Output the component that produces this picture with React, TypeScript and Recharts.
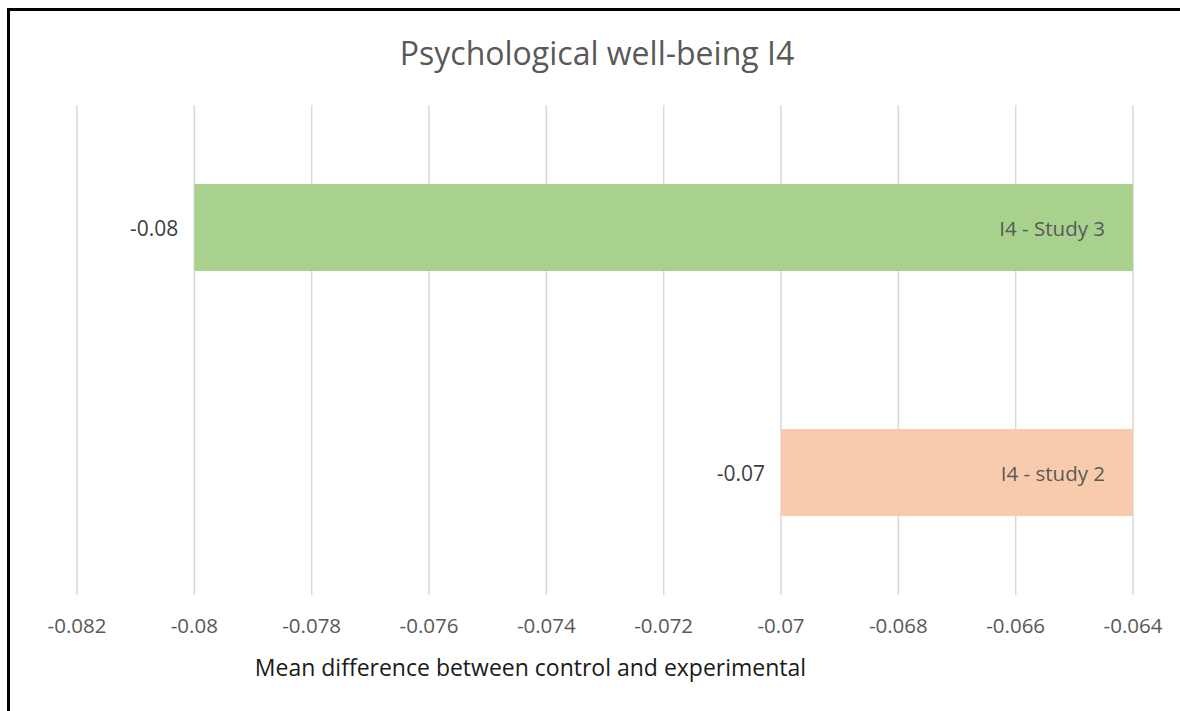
import React from 'react';
import { BarChart, Bar, XAxis, YAxis, CartesianGrid, Cell } from 'recharts';

const categories = ['I4 - Study 3', 'I4 - study 2'];
const values = [-0.08, -0.07];
const valueLabels = ['-0.08', '-0.07'];
const barColors = ['#a9d18e', '#f8cbad'];
const axisBase = -0.064;
const xTicks = [-0.082, -0.08, -0.078, -0.076, -0.074, -0.072, -0.07, -0.068, -0.066, -0.064];
const title = 'Psychological well-being I4';
const xTitle = 'Mean difference between control and experimental';

const data = categories.map((c, i) => ({ name: c, range: [values[i], axisBase] }));

const FONT = '"Open Sans", sans-serif';

const renderLabel = (props: any) => {
  const { x, y, width, height, index } = props;
  const left = Math.min(x, x + width);
  const right = Math.max(x, x + width);
  const cy = y + height / 2;
  return (
    <g>
      <text x={left - 16} y={cy} textAnchor="end" dominantBaseline="central" fill="#404040" fontSize={21} fontFamily={FONT}>
        {valueLabels[index]}
      </text>
      <text x={right - 28} y={cy} textAnchor="end" dominantBaseline="central" fill="#595959" fontSize={20.5} fontFamily={FONT}>
        {categories[index]}
      </text>
    </g>
  );
};

export default function App() {
  return (
    <div style={{ position: 'absolute', left: 0, top: 0, width: 1180, height: 711, background: '#fff', overflow: 'hidden', fontFamily: FONT }}>
      <div style={{ position: 'absolute', left: 7, top: 8, width: 1200, height: 720, borderLeft: '3px solid #000', borderTop: '3px solid #000' }} />
      <div style={{ position: 'absolute', left: 0, width: 1194, top: 31, textAlign: 'center', fontSize: 32, color: '#595959', lineHeight: '44px' }}>{title}</div>
      <div style={{ position: 'absolute', left: 0, width: 1061, top: 651, textAlign: 'center', fontSize: 23, color: '#1a1a1a', lineHeight: '32px' }}>{xTitle}</div>
      <div style={{ position: 'absolute', left: 0, top: 0 }}>
        <BarChart width={1180} height={711} data={data} layout="vertical" margin={{ left: 77, right: 47, top: 105, bottom: 86 }} barCategoryGap={0}>
          <CartesianGrid horizontal={false} stroke="#d9d9d9" strokeWidth={1.5} />
          <XAxis
            type="number"
            domain={[-0.082, -0.064]}
            ticks={xTicks}
            interval={0}
            axisLine={false}
            tickLine={false}
            tickSize={0}
            tickMargin={23}
            height={30}
            allowDataOverflow
            tick={{ fill: '#595959', fontSize: 20.5, fontFamily: FONT }}
          />
          <YAxis type="category" dataKey="name" hide />
          <Bar dataKey="range" barSize={87} isAnimationActive={false} label={renderLabel}>
            {data.map((d, i) => (
              <Cell key={d.name} fill={barColors[i]} />
            ))}
          </Bar>
        </BarChart>
      </div>
    </div>
  );
}
